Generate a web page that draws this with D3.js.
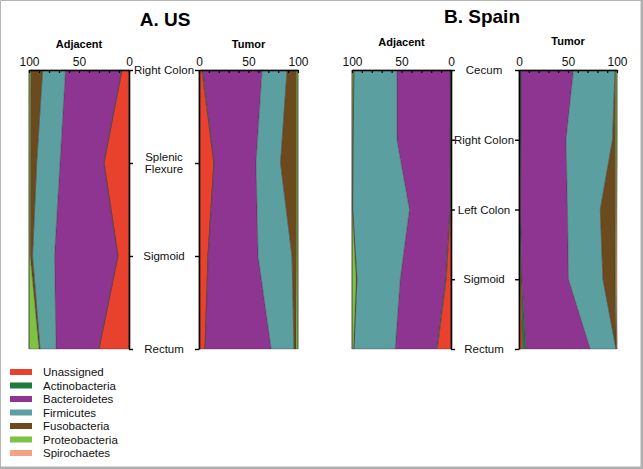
<!DOCTYPE html>
<html>
<head>
<meta charset="utf-8">
<script src="https://cdn.jsdelivr.net/npm/d3@7"></script>
<style>
body { margin: 0; background: #fff; }
svg { display: block; font-family: "Liberation Sans", Arial, sans-serif; }
</style>
</head>
<body>
<div id="viz"></div>
<script>
var W = 643, H = 469;

// phyla, stacked from the 0 end of each axis
var phyla = ['Unassigned', 'Actinobacteria', 'Bacteroidetes', 'Firmicutes', 'Fusobacteria', 'Proteobacteria', 'Spirochaetes'];
var phylaColors = ['#e8412e', '#1c7c40', '#8d3591', '#5b9fa0', '#6b4a1d', '#7dc242', '#f5a284'];

var usSites = ['Right Colon', 'Splenic Flexure', 'Sigmoid', 'Rectum'];
var spainSites = ['Cecum', 'Right Colon', 'Left Colon', 'Sigmoid', 'Rectum'];
var xTicks = [0, 10, 20, 30, 40, 50, 60, 70, 80, 90, 100];
var xLabels = [0, 50, 100];

// relative abundance (%) per site, in phyla order
var usAdjacent = [
    [7, 0.3, 56.2, 22.9, 12, 1.6, 0],
    [25, 0.3, 43.7, 23.4, 6.3, 1.3, 0],
    [11, 0.3, 63.2, 22, 2.3, 1.2, 0],
    [30, 0.3, 42.7, 16, 1, 10, 0]
];
var usTumor = [
    [3, 0.7, 60, 25.3, 9.5, 1.5, 0],
    [15, 0.3, 42.3, 24.8, 16.1, 1.5, 0],
    [9, 0.3, 50.4, 34.3, 4.5, 1.5, 0],
    [6, 0.3, 66.7, 23, 2, 2, 0]
];
var spainAdjacent = [
    [0.3, 0.7, 53.7, 43.3, 0.5, 1.5, 0],
    [0.3, 0.7, 53.7, 44.3, 0.3, 0.7, 0],
    [0.5, 0.7, 40.8, 57.3, 0.3, 0.4, 0],
    [5, 0.7, 45.6, 43.7, 0.8, 4.2, 0],
    [14, 0.8, 41.6, 41.6, 0.5, 1.5, 0]
];
var spainTumor = [
    [0.5, 1.5, 53.6, 42.4, 0.5, 1.5, 0],
    [0.5, 1.5, 46, 47.5, 3, 1.5, 0],
    [0.5, 1, 48, 33.5, 15.5, 1, 0.5],
    [2, 1, 47.5, 35.2, 12.3, 1, 1],
    [3.5, 3.5, 65.7, 26.3, 0.3, 0.5, 0.2]
];

var top_y = 70, bottom_y = 349;

var svg = d3.select('#viz').append('svg')
    .attr('width', W)
    .attr('height', H);

svg.append('rect').attr('width', W).attr('height', H).attr('fill', '#fff');

var color = d3.scaleOrdinal().domain(phyla).range(phylaColors);

function toRows(sites, values) {
    return sites.map(function(s, i) {
        var r = { site: s };
        phyla.forEach(function(p, j) { r[p] = values[i][j]; });
        return r;
    });
}

function draw_panel(sites, values, x0, x1, title, titleY) {
    var x = d3.scaleLinear().domain([0, 100]).range([x0, x1]);
    var y = d3.scalePoint().domain(sites).range([top_y, bottom_y]);
    var series = d3.stack().keys(phyla)(toRows(sites, values));

    var area = d3.area()
        .y(function(d) { return y(d.data.site); })
        .x0(function(d) { return x(d[0]); })
        .x1(function(d) { return x(d[1]); });

    var g = svg.append('g');
    g.selectAll('path.layer')
        .data(series)
        .enter().append('path')
        .attr('class', 'layer')
        .attr('fill', function(d) { return color(d.key); })
        .attr('stroke', '#3b2b2b')
        .attr('stroke-opacity', 0.55)
        .attr('stroke-width', 0.6)
        .attr('d', area);

    // top axis: minor ticks point into the plot
    var ax = g.append('g')
        .attr('transform', 'translate(0,' + top_y + ')')
        .call(d3.axisTop(x).tickValues(xTicks).tickSizeInner(-3).tickSizeOuter(0).tickPadding(4)
            .tickFormat(function(d) { return xLabels.indexOf(d) >= 0 ? d : ''; }));
    ax.select('.domain').attr('stroke-width', 1.6);
    ax.selectAll('.tick line').attr('stroke-width', 1.2);
    ax.selectAll('text').style('font-size', '12px').attr('fill', '#111');

    // vertical axis on the 0 side
    var yax = g.append('g')
        .attr('transform', 'translate(' + x(0) + ',0)')
        .call((x0 > x1 ? d3.axisRight(y) : d3.axisLeft(y)).tickSize(4).tickSizeOuter(0).tickFormat(''));
    yax.select('.domain').attr('stroke-width', 1.6);
    yax.selectAll('.tick line').attr('stroke-width', 1.4);

    g.append('text')
        .attr('x', (x0 + x1) / 2)
        .attr('y', titleY)
        .attr('text-anchor', 'middle')
        .style('font-size', '11px')
        .style('font-weight', 'bold')
        .text(title);
    return y;
}

// A. US
var yUS = draw_panel(usSites, usAdjacent, 129, 29, 'Adjacent', 48);
draw_panel(usSites, usTumor, 199, 298, 'Tumor', 48);
// B. Spain
var ySP = draw_panel(spainSites, spainAdjacent, 451, 352, 'Adjacent', 46);
draw_panel(spainSites, spainTumor, 519, 617, 'Tumor', 45);

function site_labels(sites, y, cx) {
    sites.forEach(function(s) {
        var words = s == 'Splenic Flexure' ? ['Splenic', 'Flexure'] : [s];
        var t = svg.append('text')
            .attr('text-anchor', 'middle')
            .style('font-size', '11.5px')
            .attr('fill', '#111');
        words.forEach(function(w, i) {
            t.append('tspan')
                .attr('x', cx)
                .attr('y', y(s))
                .attr('dy', (0.35 + (i - (words.length - 1) / 2) * 1.1) + 'em')
                .text(w);
        });
    });
}
site_labels(usSites, yUS, 164);
site_labels(spainSites, ySP, 484);

svg.append('text').attr('x', 165).attr('y', 26).attr('text-anchor', 'middle')
    .style('font-size', '19px').style('font-weight', 'bold').text('A. US');
svg.append('text').attr('x', 482).attr('y', 23).attr('text-anchor', 'middle')
    .style('font-size', '19px').style('font-weight', 'bold').text('B. Spain');

// legend
var lg = svg.append('g').attr('transform', 'translate(10,372)');
phyla.forEach(function(p, i) {
    lg.append('rect')
        .attr('x', 0).attr('y', i * 13.5 - 3)
        .attr('width', 22).attr('height', 6)
        .attr('fill', color(p));
    lg.append('text')
        .attr('x', 33).attr('y', i * 13.5 + 4)
        .style('font-size', '11.5px')
        .attr('fill', '#111')
        .text(p);
});

// frame
svg.append('path')
    .attr('d', 'M0.5,' + H + 'V0.5H' + W)
    .attr('fill', 'none').attr('stroke', '#b5b5b5').attr('stroke-width', 1);
svg.append('path')
    .attr('d', 'M' + (W - 1.25) + ',0V' + (H - 1.25) + 'H0')
    .attr('fill', 'none').attr('stroke', '#b0b0b0').attr('stroke-width', 2.5);
</script>
</body>
</html>
